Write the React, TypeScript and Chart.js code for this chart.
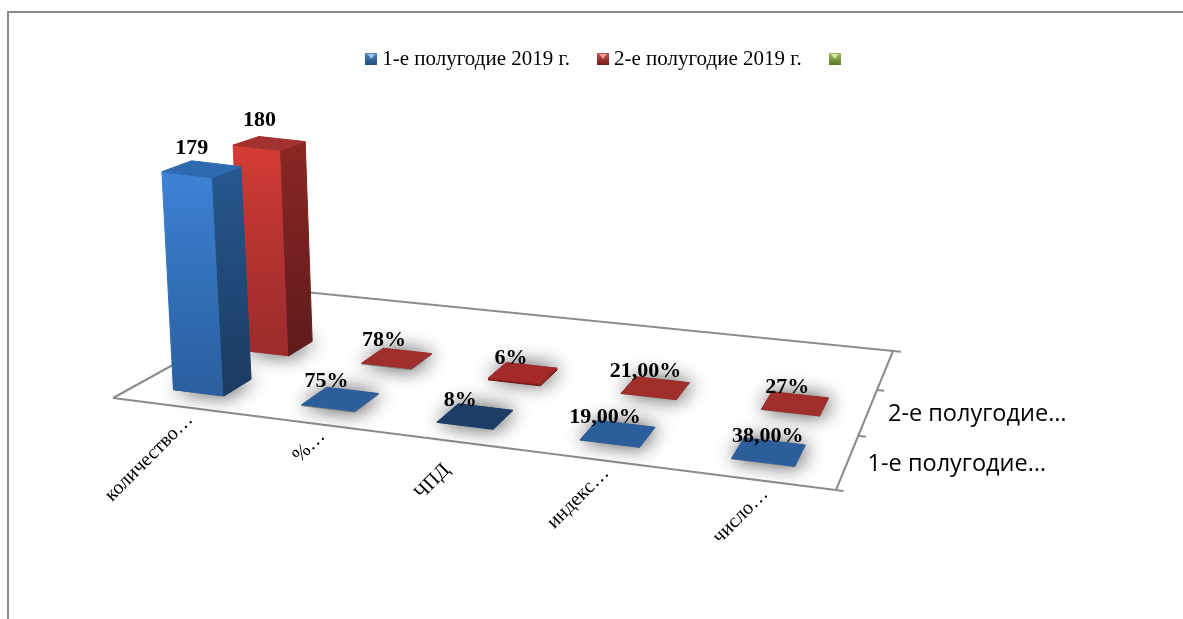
import React, { useEffect, useRef } from "react";
import { Chart, registerables } from "chart.js";

Chart.register(...registerables);

const categories = ["количество…", "%…", "ЧПД", "индекс…", "число…"];
const seriesNames = ["1-е полугодие 2019 г.", "2-е полугодие 2019 г.", ""];
const depthLabels = ["1-е полугодие…", "2-е полугодие…", ""];
const firstHalf = [179, 0.75, 0.08, 0.19, 0.38];
const secondHalf = [180, 0.78, 0.06, 0.21, 0.27];
const thirdSeries: number[] = [];
const firstHalfLabels = ["179", "75%", "8%", "19,00%", "38,00%"];
const secondHalfLabels = ["180", "78%", "6%", "21,00%", "27%"];

// style tables
const labelNudge = [
  [[-10, -15], [-14, -12], [-15, -10], [-13, -10], [-1, -10]],
  [[-10, -17], [-13, -12], [-12, -9], [-10, -11], [-8, -11]],
];
const categoryNudge = [[13, 10], [13, 10], [-2, 26], [9, 10], [11, 11]];
const palette = [
  { front: ["#3d82d4", "#3270b8", "#2b5e9e"], side: ["#26588f", "#1b3a60"], top: "#2f69b0", plate: ["#2d5e9c", "#2d5e9c", "#1d3d69", "#2d5e9c", "#2d5e9c"] },
  { front: ["#d63c36", "#b33330", "#9c2c2a"], side: ["#8a2724", "#5f1b1a"], top: "#a23230", plate: ["#a02e2b", "#a02e2b", "#a32a28", "#a02e2b", "#a02e2b"] },
];
const legendColours = [
  ["#4f81bd", "#1f4e86", "#9cc3f0"],
  ["#c0504d", "#7a1f1d", "#f09a96"],
  ["#9bbb59", "#5d7a26", "#d5e8a6"],
];

// floor of the 3-D box: front-left, front-right, back-right, back-left
const floor = [[113, 398], [836, 490], [893, 351], [305, 292]];
const frame = (() => {
  const [[x0, y0], [x1, y1], [x2, y2], [x3, y3]] = floor;
  const dx1 = x1 - x2, dx2 = x3 - x2, sx = x0 - x1 + x2 - x3;
  const dy1 = y1 - y2, dy2 = y3 - y2, sy = y0 - y1 + y2 - y3;
  const det = dx1 * dy2 - dx2 * dy1;
  const g = (sx * dy2 - dx2 * sy) / det;
  const h = (dx1 * sy - sx * dy1) / det;
  return { a: x1 - x0 + g * x1, b: x3 - x0 + h * x3, c: x0, d: y1 - y0 + g * y1, e: y3 - y0 + h * y3, f: y0, g, h };
})();
const project = (u: number, v: number) => {
  const { a, b, c, d, e, f, g, h } = frame;
  const w = g * u + h * v + 1;
  return [(a * u + b * v + c) / w, (d * u + e * v + f) / w];
};
const raise = (p: number[], v: number, lift: number) => [
  p[0] - (14 - 11 * v) * lift,
  p[1] - (248.3 - 46.7 * v) * lift,
];

const path = (ctx: CanvasRenderingContext2D, pts: number[][]) => {
  ctx.beginPath();
  pts.forEach((p, i) => (i ? ctx.lineTo(p[0], p[1]) : ctx.moveTo(p[0], p[1])));
  ctx.closePath();
};
const fillPoly = (ctx: CanvasRenderingContext2D, pts: number[][], fill: any) => {
  path(ctx, pts);
  ctx.fillStyle = fill;
  ctx.strokeStyle = fill;
  ctx.lineWidth = 1;
  ctx.lineJoin = "round";
  ctx.fill();
  ctx.stroke();
};
const gradient = (ctx: CanvasRenderingContext2D, y0: number, y1: number, stops: string[]) => {
  const g = ctx.createLinearGradient(0, y0, 0, y1);
  stops.forEach((c, i) => g.addColorStop(i / (stops.length - 1), c));
  return g;
};
const line = (ctx: CanvasRenderingContext2D, a: number[], b: number[]) => {
  ctx.beginPath();
  ctx.moveTo(a[0], a[1]);
  ctx.lineTo(b[0], b[1]);
  ctx.stroke();
};

const legendMarker = (colours: string[]) => {
  const c = document.createElement("canvas");
  c.width = 12;
  c.height = 12;
  const x = c.getContext("2d")!;
  const g = x.createLinearGradient(0, 0, 0, 12);
  g.addColorStop(0, colours[0]);
  g.addColorStop(1, colours[1]);
  x.fillStyle = g;
  x.fillRect(0, 0, 12, 12);
  x.fillStyle = colours[2];
  x.beginPath();
  x.moveTo(2, 1);
  x.lineTo(10, 1);
  x.lineTo(6, 6);
  x.closePath();
  x.fill();
  return c;
};

const box3d = {
  id: "box3d",
  beforeDatasetsDraw(chart: any) {
    const ctx: CanvasRenderingContext2D = chart.ctx;
    const { chartArea: area, scales } = chart;
    const rows = chart.data.datasets.length;
    const rowDepth = 1 / rows;
    const plateDepth = rowDepth * 0.4;
    ctx.save();

    // box outline
    ctx.strokeStyle = "#8c8c8c";
    ctx.lineWidth = 2;
    ctx.lineCap = "butt";
    line(ctx, project(0, 1), project(1.012, 1));
    line(ctx, project(0, 0), project(1.009, 0));
    line(ctx, project(0, 0), project(0, 1));
    line(ctx, project(1, 0), project(1, 1));
    for (let i = 1; i < rows; i++) line(ctx, project(1, i * rowDepth), project(1.01, i * rowDepth));

    const toU = (px: number) => (px - area.left) / area.width;
    // back row first
    for (let r = rows - 1; r >= 0; r--) {
      const meta = chart.getDatasetMeta(r);
      const v = (r + 0.5) * rowDepth;
      meta.data.forEach((bar: any, i: number) => {
        const u = toU(bar.x);
        const hw = bar.width / area.width / 2;
        const lift = (bar.base - bar.y) / (scales.y.bottom - scales.y.top);
        const vf = v - plateDepth / 2, vb = v + plateDepth / 2;
        const f = [project(u - hw, vf), project(u + hw, vf), project(u + hw, vb), project(u - hw, vb)];
        const t = [raise(f[0], vf, lift), raise(f[1], vf, lift), raise(f[2], vb, lift), raise(f[3], vb, lift)];
        const p = palette[r];
        // soft shadow on the floor
        ctx.save();
        ctx.shadowColor = "rgba(0,0,0,0.7)";
        ctx.shadowBlur = 20;
        ctx.shadowOffsetX = 2;
        ctx.shadowOffsetY = 0;
        fillPoly(ctx, f, "#808080");
        ctx.restore();
        ctx.save();
        ctx.filter = "blur(0.7px)";
        if (lift > 0.05) {
          fillPoly(ctx, [f[0], f[1], t[1], t[0]], gradient(ctx, t[0][1], f[1][1], p.front));
          fillPoly(ctx, [f[1], f[2], t[2], t[1]], gradient(ctx, t[2][1], f[1][1], p.side));
          fillPoly(ctx, t, p.top);
        } else {
          if (r === 1 && i === 2) fillPoly(ctx, t.map((q) => [q[0], q[1] + 1.5]), "#6e1a18");
          fillPoly(ctx, t, p.plate[i]);
        }
        ctx.restore();
      });
    }

    // value labels
    ctx.fillStyle = "#000";
    ctx.textAlign = "center";
    ctx.textBaseline = "alphabetic";
    ctx.font = "bold 22px 'Liberation Serif'";
    const texts = [firstHalfLabels, secondHalfLabels];
    texts.forEach((list, r) => {
      const v = (r + 0.5) * rowDepth;
      const meta = chart.getDatasetMeta(r);
      list.forEach((txt, i) => {
        const bar = meta.data[i];
        const lift = (bar.base - bar.y) / (scales.y.bottom - scales.y.top);
        const q = raise(project(toU(bar.x), v), v, lift);
        ctx.fillText(txt, q[0] + labelNudge[r][i][0], q[1] + labelNudge[r][i][1]);
      });
    });

    // category labels
    ctx.font = "20px 'Liberation Serif'";
    ctx.textAlign = "right";
    chart.data.labels.forEach((lab: string, i: number) => {
      const q = project(toU(scales.x.getPixelForValue(i)), 0);
      ctx.save();
      ctx.translate(q[0] + categoryNudge[i][0], q[1] + categoryNudge[i][1]);
      ctx.rotate(-Math.PI / 4);
      ctx.fillText(lab, 0, 6);
      ctx.restore();
    });

    // depth labels
    ctx.font = "23.5px 'Open Sans'";
    ctx.textAlign = "left";
    depthLabels.forEach((lab, r) => {
      const q = project(1, (r + 0.5) * rowDepth);
      ctx.fillText(lab, q[0] + 20, q[1] + 9);
    });
    ctx.restore();
    return false;
  },
};

export default function App() {
  const ref = useRef<HTMLCanvasElement>(null);
  useEffect(() => {
    document.body.style.margin = "0";
    const markers = legendColours.map(legendMarker);
    const chart = new Chart(ref.current!, {
      type: "bar",
      data: {
        labels: categories,
        datasets: [
          { label: seriesNames[0], data: firstHalf, backgroundColor: legendColours[0][0] },
          { label: seriesNames[1], data: secondHalf, backgroundColor: legendColours[1][0] },
          { label: seriesNames[2], data: thirdSeries, backgroundColor: legendColours[2][0] },
        ],
      },
      options: {
        responsive: false,
        animation: false,
        layout: { padding: { left: 33.5, top: 16 } },
        datasets: { bar: { grouped: false, barPercentage: 0.4, categoryPercentage: 1 } },
        scales: {
          x: { display: false },
          y: { display: false, min: 0, max: 200 },
        },
        plugins: {
          tooltip: { enabled: false },
          legend: {
            display: true,
            position: "top",
            labels: {
              usePointStyle: true,
              boxWidth: 1,
              padding: 32.5,
              color: "#000",
              font: { family: "'Liberation Serif'", size: 21 },
              generateLabels: (c: any) =>
                c.data.datasets.map((d: any, i: number) => ({
                  text: d.label,
                  fontColor: "#000",
                  fillStyle: d.backgroundColor,
                  strokeStyle: d.backgroundColor,
                  lineWidth: 0,
                  hidden: false,
                  datasetIndex: i,
                  pointStyle: markers[i],
                })),
            },
          },
        },
      },
      plugins: [box3d],
    } as any);
    return () => chart.destroy();
  }, []);
  return (
    <div style={{ position: "relative", width: 1183, height: 619, overflow: "hidden", background: "#fff" }}>
      <canvas ref={ref} width={1183} height={619} style={{ display: "block", position: "absolute", left: 0, top: 0 }} />
      <div style={{ position: "absolute", left: 7, top: 11, right: -4, bottom: -4, borderLeft: "2px solid #8c8c8c", borderTop: "2px solid #8c8c8c" }} />
    </div>
  );
}
